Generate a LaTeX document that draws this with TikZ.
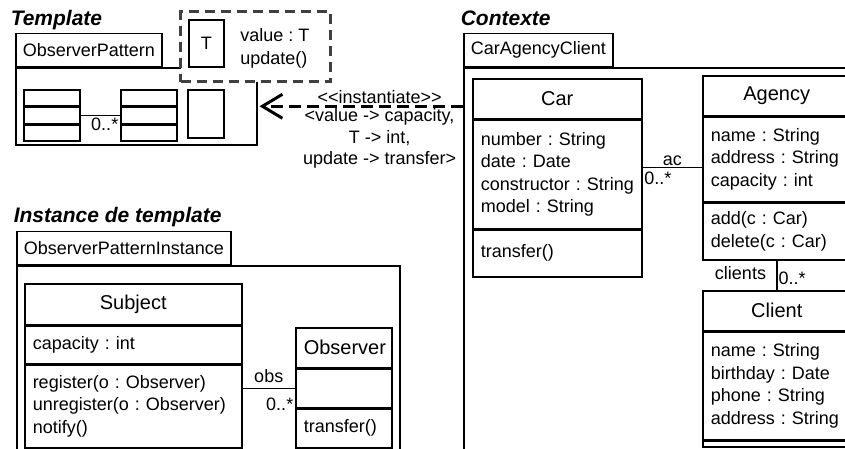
\documentclass[tikz,border=0pt]{standalone}
\usepackage{fontspec}
\setmainfont{Liberation Sans}[Ligatures=TeXOff]
\usetikzlibrary{positioning,arrows.meta}
\frenchspacing

\begin{document}
\begin{tikzpicture}[
  x=1pt, y=-1pt, line width=1.5pt,
  font=\fontsize{18}{22.5}\selectfont,
  >={Straight Barb[length=20pt,width=24pt]},
  pkgtitle/.style={font=\fontsize{21}{24}\selectfont\bfseries\itshape,anchor=base west,inner sep=0pt},
  pkgtab/.style={draw,anchor=south west,minimum height=33pt,inner xsep=7pt,inner ysep=0pt},
  pkgbody/.style={draw,anchor=north west,inner sep=0pt},
  cbox/.style={draw,anchor=north west,inner xsep=8pt,inner ysep=0pt,align=left,text width=#1},
  chead/.style={align=center,minimum height=40pt,font=\fontsize{20}{24}\selectfont},
  mini/.style={draw,anchor=north west,inner sep=0pt,minimum width=56pt,minimum height=16pt},
  mult/.style={inner sep=1pt}
]
\useasboundingbox (0,0) rectangle (845,448);
\clip (0,0) rectangle (845,448);

% Template
\node[pkgtab] (tpltab) at (15,67) {ObserverPattern};
\node[pkgtitle] at ([xshift=-5pt,yshift=7pt]tpltab.north west) {Template};
\node[pkgbody,minimum width=241pt,minimum height=77pt] (tplbody) at (tpltab.south west) {};
\node[mini] (sa) at (23,89) {};
\node[mini] (sb) at (sa.south west) {};
\node[mini] (sc) at (sb.south west) {};
\node[mini] (oa) at (120,89) {};
\node[mini] (ob) at (oa.south west) {};
\node[mini] (oc) at (ob.south west) {};
\node[mini,minimum width=36pt,minimum height=48pt] (tt) at (187,89) {};
\draw (sb.east) -- node[pos=1,below left,mult,yshift=-1pt]{0..*} (ob.west);
\node[draw=black!75,fill=white,line width=3pt,dash pattern=on 10pt off 6pt,
  anchor=north west,inner sep=0pt,minimum width=150pt,minimum height=70pt] (tplparam) at (179,10) {};
\node[draw,anchor=north west,inner sep=0pt,minimum width=35pt,minimum height=47pt] (tparam) at (188,19) {T};
\node[right=15pt of tparam,yshift=-5pt,inner sep=0pt,align=left] (tvals) {value : T\\update()};

% Contexte
\node[pkgtab] (ctxtab) at (463,67) {CarAgencyClient};
\node[pkgtitle] at ([xshift=-3pt,yshift=7pt]ctxtab.north west) {Contexte};
\node[pkgbody,minimum width=450pt,minimum height=450pt] (ctxbody) at (ctxtab.south west) {};

\node[cbox=153pt,chead] (car) at (472,78) {Car};
\node[cbox=153pt,minimum height=108pt] (carattr) at (car.south west)
  {number : String\\date : Date\\constructor~:~String\\model : String};
\node[cbox=153pt,minimum height=47pt] (carops) at (carattr.south west) {transfer()};

\node[cbox=132pt,chead] (agency) at (702,75) {Agency};
\node[cbox=132pt,minimum height=84pt] (agencyattr) at (agency.south west)
  {name : String\\address : String\\capacity : int};
\node[cbox=132pt,minimum height=57pt] (agencyops) at (agencyattr.south west)
  {add(c : Car)\\delete(c : Car)};

\node[cbox=132pt,chead] (client) at (702,290) {Client};
\node[cbox=132pt,minimum height=107pt] (clientattr) at (client.south west)
  {name : String\\birthday : Date\\phone : String\\address : String};
\node[cbox=132pt,minimum height=6pt] (clientops) at (clientattr.south west) {};

\draw ([yshift=7pt]carattr.east) -- node[midway,above,mult]{ac}
  node[pos=0,below right,mult,yshift=-3pt]{0..*} ([yshift=7pt]carattr.east -| agencyattr.west);
\draw (agencyops.south) -- node[midway,left,mult,xshift=-9pt,yshift=2pt]{clients}
  node[midway,right,mult,yshift=-3pt]{0..*} (client.north);

% Instance de template
\node[pkgtab] (insttab) at (16,265) {ObserverPatternInstance};
\node[pkgtitle] at ([xshift=-3pt,yshift=8pt]insttab.north west) {Instance de template};
\node[pkgbody,minimum width=383pt,minimum height=300pt] (instbody) at (insttab.south west) {};

\node[cbox=201pt,chead,minimum height=41pt] (subject) at (24,283) {Subject};
\node[cbox=201pt,minimum height=37pt] (subjattr) at (subject.south west) {capacity : int};
\node[cbox=201pt,minimum height=83pt] (subjops) at (subjattr.south west)
  {register(o : Observer)\\unregister(o : Observer)\\notify()};

\node[cbox=80pt,chead] (observer) at (295,327) {Observer};
\node[cbox=80pt,minimum height=38pt] (obsattr) at (observer.south west) {};
\node[cbox=80pt,minimum height=39pt] (obsops) at (obsattr.south west) {transfer()};

\draw (obsattr.west -| subjops.east) -- node[midway,above=4pt,mult]{obs}
  node[pos=1,below left,mult,yshift=-8pt]{0..*} (obsattr.west);

% instantiation
\draw[->,line width=3pt,dash pattern=on 12pt off 6pt] (tplbody.east -| ctxbody.west) --
  node[pos=0.41,above,mult]{<<instantiate>>}
  node[pos=0.41,below,mult,align=center,font=\fontsize{18}{21.5}\selectfont]
  {<value -> capacity,\\T -> int,\\update -> transfer>} ([xshift=2pt]tplbody.east);
\end{tikzpicture}
\end{document}
